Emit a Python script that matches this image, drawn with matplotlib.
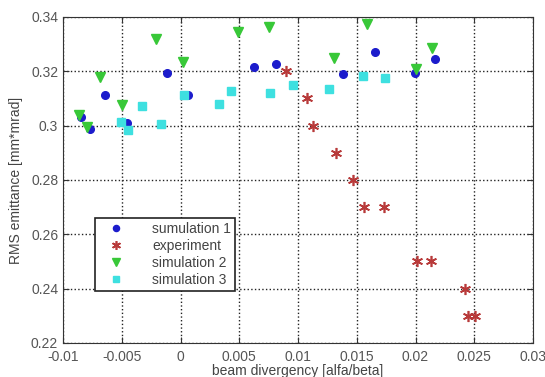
import numpy as np
import matplotlib.pyplot as plt

# data
sim1_x = [-0.00847, -0.0077, -0.00643, -0.00455, -0.00115, 0.00064, 0.00626, 0.00813, 0.01383, 0.01655, 0.01996, 0.02166]
sim1_y = [0.3032, 0.2987, 0.3113, 0.3010, 0.3194, 0.3113, 0.3216, 0.3227, 0.3190, 0.3271, 0.3194, 0.3245]

exp_x = [0.00898, 0.01077, 0.01128, 0.01323, 0.01468, 0.01562, 0.01732, 0.02013, 0.02132, 0.02421, 0.02447, 0.02506]
exp_y = [0.32, 0.31, 0.30, 0.29, 0.28, 0.27, 0.27, 0.25, 0.25, 0.24, 0.23, 0.23]

sim2_x = [-0.00864, -0.00796, -0.00685, -0.00498, -0.00209, 0.00021, 0.00489, 0.00753, 0.01306, 0.01587, 0.02004, 0.0214]
sim2_y = [0.3039, 0.2995, 0.3179, 0.3076, 0.3319, 0.3234, 0.3345, 0.3363, 0.3249, 0.3374, 0.3208, 0.3286]

sim3_x = [-0.00506, -0.00447, -0.00328, -0.00166, 0.00030, 0.00328, 0.0043, 0.00762, 0.00957, 0.01264, 0.01553, 0.0174]
sim3_y = [0.3013, 0.2984, 0.3072, 0.3006, 0.3113, 0.3080, 0.3127, 0.3120, 0.3150, 0.3135, 0.3183, 0.3175]

x_ticks = [-0.01, -0.005, 0, 0.005, 0.01, 0.015, 0.02, 0.025, 0.03]
x_tick_labels = ['-0.01', '-0.005', '0', '0.005', '0.01', '0.015', '0.02', '0.025', '0.03']
y_ticks = [0.22, 0.24, 0.26, 0.28, 0.3, 0.32, 0.34]
y_tick_labels = ['0.22', '0.24', '0.26', '0.28', '0.3', '0.32', '0.34']

plt.rcParams['font.family'] = ['Liberation Sans', 'DejaVu Sans']

fig = plt.figure(figsize=(5.45, 3.77), dpi=100)
ax = fig.add_axes([0.1156, 0.0902, 0.8624, 0.8648])

# matlab-style asterisk for the experiment points
asterisk = (6, 2, 0)

ax.plot(sim1_x, sim1_y, 'o', color='#1c1ccc', markersize=5.5, linestyle='none', label='sumulation 1')
ax.plot(exp_x, exp_y, marker=asterisk, color='#b83a3a', markersize=8, markeredgewidth=1.2,
        linestyle='none', label='experiment')
ax.plot(sim2_x, sim2_y, 'v', color='#38c838', markersize=7, linestyle='none', label='simulation 2')
ax.plot(sim3_x, sim3_y, 's', color='#3ee0e0', markersize=5.5, linestyle='none', label='simulation 3')

ax.set_xlim(-0.01, 0.03)
ax.set_ylim(0.22, 0.34)
ax.set_xticks(x_ticks)
ax.set_xticklabels(x_tick_labels)
ax.set_yticks(y_ticks)
ax.set_yticklabels(y_tick_labels)

ax.tick_params(direction='in', top=True, right=True, labelsize=10, colors='#333333', length=4)
ax.tick_params(axis='x', pad=5)
for lbl in ax.get_xticklabels() + ax.get_yticklabels():
    lbl.set_color('#555555')

ax.grid(True, color='#222222', linestyle=':', linewidth=1)

for s in ax.spines.values():
    s.set_color('#333333')

ax.set_xlabel('beam divergency [alfa/beta]', fontsize=10, color='#444444', labelpad=0)
ax.set_ylabel('RMS emittance [mm*mrad]', fontsize=10, color='#444444', labelpad=6)

leg = ax.legend(loc='upper left', bbox_to_anchor=(0.068, 0.383), borderaxespad=0,
                fontsize=10, numpoints=1, markerscale=0.8,
                frameon=True, fancybox=False, edgecolor='#222222', framealpha=1,
                handletextpad=1.4, borderpad=0.3, labelspacing=0.2,
                handlelength=2.4)
leg.get_frame().set_linewidth(1.2)
for t in leg.get_texts():
    t.set_color('#444444')

fig.savefig('out.png', dpi=100)
